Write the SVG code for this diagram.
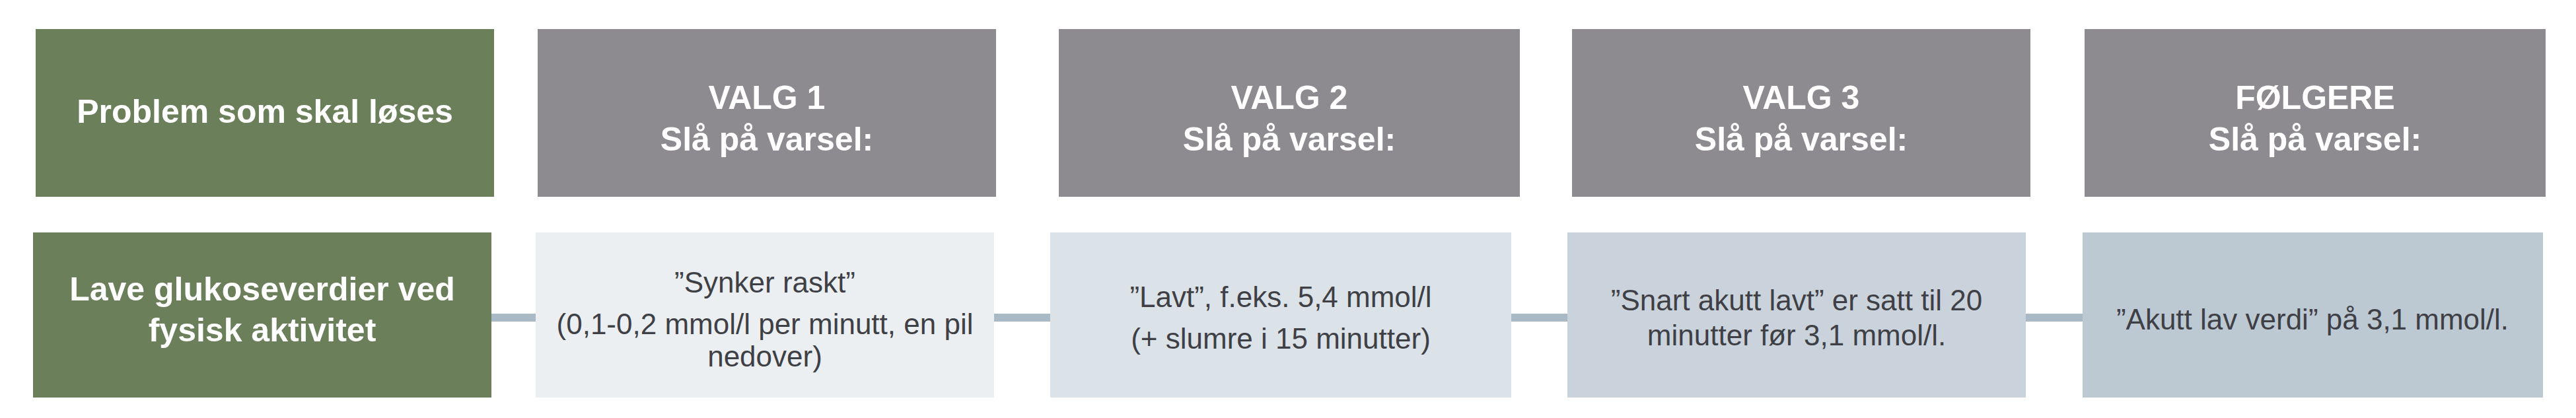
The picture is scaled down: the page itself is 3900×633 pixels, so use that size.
<svg xmlns="http://www.w3.org/2000/svg" width="3900" height="633" viewBox="0 0 3900 633">
<style>
.hd{font-family:"Liberation Sans",Arial,sans-serif;font-weight:bold;font-size:50px;fill:#ffffff;text-anchor:middle}
.bd{font-family:"Liberation Sans",Arial,sans-serif;font-size:44px;fill:#3f3f46;text-anchor:middle}
.green{fill:#6b7f5a}
.gray{fill:#8e8b90}
.conn{stroke:#a9b9c5;stroke-width:12;fill:none}
</style>
<rect width="3900" height="633" fill="#ffffff"/>
<g id="connectors">
<line class="conn" x1="744" y1="481" x2="811" y2="481"/>
<line class="conn" x1="1505" y1="481" x2="1590" y2="481"/>
<line class="conn" x1="2288" y1="481" x2="2373" y2="481"/>
<line class="conn" x1="3067" y1="481" x2="3153" y2="481"/>
</g>
<g id="header-problem">
<rect class="green" x="54" y="44" width="694" height="254"/>
<text class="hd" x="401" y="186">Problem som skal løses</text>
</g>
<g id="header-valg1">
<rect class="gray" x="814" y="44" width="694" height="254"/>
<text class="hd" x="1161" y="165">VALG 1</text>
<text class="hd" x="1161" y="228">Slå på varsel:</text>
</g>
<g id="header-valg2">
<rect class="gray" x="1603" y="44" width="698" height="254"/>
<text class="hd" x="1952" y="165">VALG 2</text>
<text class="hd" x="1952" y="228">Slå på varsel:</text>
</g>
<g id="header-valg3">
<rect class="gray" x="2380" y="44" width="694" height="254"/>
<text class="hd" x="2727" y="165">VALG 3</text>
<text class="hd" x="2727" y="228">Slå på varsel:</text>
</g>
<g id="header-folgere">
<rect class="gray" x="3156" y="44" width="698" height="254"/>
<text class="hd" x="3505" y="165">FØLGERE</text>
<text class="hd" x="3505" y="228">Slå på varsel:</text>
</g>
<g id="problem">
<rect class="green" x="50" y="352" width="694" height="250"/>
<text class="hd" x="397" y="455">Lave glukoseverdier ved</text>
<text class="hd" x="397" y="517">fysisk aktivitet</text>
</g>
<g id="valg1">
<rect x="811" y="352" width="694" height="250" fill="#eceff2"/>
<text class="bd" x="1158" y="443">”Synker raskt”</text>
<text class="bd" x="1158" y="506">(0,1-0,2 mmol/l per minutt, en pil</text>
<text class="bd" x="1158" y="555">nedover)</text>
</g>
<g id="valg2">
<rect x="1590" y="352" width="698" height="250" fill="#dbe2e8"/>
<text class="bd" x="1939" y="465">”Lavt”, f.eks. 5,4 mmol/l</text>
<text class="bd" x="1939" y="528">(+ slumre i 15 minutter)</text>
</g>
<g id="valg3">
<rect x="2373" y="352" width="694" height="250" fill="#cad3dc"/>
<text class="bd" x="2720" y="470">”Snart akutt lavt” er satt til 20</text>
<text class="bd" x="2720" y="523">minutter før 3,1 mmol/l.</text>
</g>
<g id="folgere">
<rect x="3153" y="352" width="697" height="250" fill="#bcc8d2"/>
<text class="bd" x="3501" y="499">”Akutt lav verdi” på 3,1 mmol/l.</text>
</g>
</svg>
